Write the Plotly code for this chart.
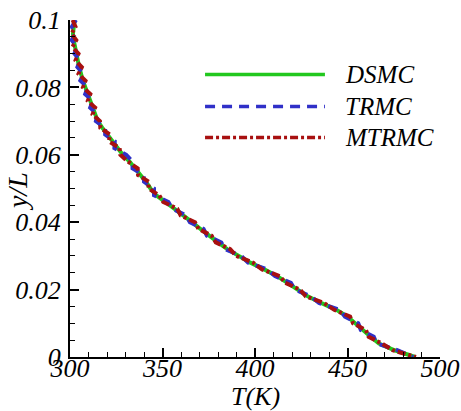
import plotly.graph_objects as go

# y/L positions (shared by all three series)
y_over_L = [0.100, 0.098, 0.096, 0.094, 0.092, 0.090, 0.088, 0.086, 0.084, 0.082,
            0.080, 0.078, 0.076, 0.074, 0.072, 0.070, 0.068, 0.066, 0.064, 0.062,
            0.060, 0.058, 0.056, 0.054, 0.052, 0.050, 0.048, 0.046, 0.044, 0.042,
            0.040, 0.038, 0.036, 0.034, 0.032, 0.030, 0.028, 0.026, 0.024, 0.022,
            0.020, 0.018, 0.016, 0.014, 0.012, 0.010, 0.008, 0.006, 0.004, 0.002,
            0.000]

T_dsmc = [302.5, 302.0, 301.6, 302.0, 302.6, 303.4, 304.2, 305.0, 305.9, 307.0,
          308.3, 309.6, 310.9, 312.2, 313.4, 315.0, 317.5, 320.2, 322.5, 325.2,
          328.5, 332.2, 335.3, 338.0, 341.0, 343.5, 346.5, 351.5, 356.5, 361.0,
          366.0, 370.5, 375.0, 380.0, 385.0, 391.0, 397.5, 405.0, 412.0, 417.5,
          423.0, 428.5, 436.0, 444.0, 450.0, 454.0, 458.5, 462.5, 467.0, 475.5,
          486.5]

T_trmc = [303.2, 301.0, 302.8, 300.9, 303.8, 302.4, 305.6, 304.0, 307.4, 305.6,
          309.6, 308.2, 312.4, 310.9, 314.8, 314.0, 319.0, 319.0, 324.2, 324.0,
          330.4, 333.8, 333.8, 339.8, 340.0, 345.4, 345.4, 353.2, 355.2, 362.8,
          364.8, 372.2, 374.0, 381.8, 383.6, 392.6, 396.2, 406.6, 410.8, 419.4,
          421.6, 430.2, 434.6, 445.8, 448.6, 455.8, 457.2, 464.2, 465.8, 477.2,
          485.5]

T_mtrmc = [301.4, 303.0, 300.8, 303.4, 301.3, 304.6, 303.0, 306.4, 304.6, 308.4,
           307.0, 311.0, 309.6, 313.6, 312.2, 316.2, 316.4, 321.6, 321.0, 326.8,
           327.2, 331.2, 336.6, 336.8, 342.6, 342.4, 348.2, 350.4, 358.0, 359.8,
           367.6, 369.4, 376.6, 378.8, 386.6, 389.8, 399.0, 403.8, 413.4, 416.4,
           424.4, 427.4, 437.4, 442.8, 451.4, 453.0, 460.0, 461.4, 468.6, 474.4,
           487.0]

x_ticks = [300, 350, 400, 450, 500]
x_tick_labels = ["300", "350", "400", "450", "500"]
y_ticks = [0, 0.02, 0.04, 0.06, 0.08, 0.1]
y_tick_labels = ["0", "0.02", "0.04", "0.06", "0.08", "0.1"]

series_names = ["DSMC", "TRMC", "MTRMC"]
colors = ["#22c81e", "#3030c8", "#a81010"]
dashes = ["solid", "10px,7px", "8px,3px,3px,3px"]

FONT = "Liberation Serif"

fig = go.Figure()
for name, T, c, d in zip(series_names, [T_dsmc, T_trmc, T_mtrmc], colors, dashes):
    fig.add_trace(go.Scatter(x=T, y=y_over_L, mode="lines", name=name,
                             line=dict(color=c, width=4, dash=d),
                             showlegend=False))

# manual legend (long line samples as in the original)
leg_y = [0.838, 0.743, 0.651]
for name, c, d, yy in zip(series_names, colors, dashes, leg_y):
    fig.add_shape(type="line", xref="paper", yref="paper",
                  x0=0.365, x1=0.689, y0=yy, y1=yy,
                  line=dict(color=c, width=3.5, dash=d))
    fig.add_annotation(xref="paper", yref="paper", x=0.738, y=yy,
                       text=name, showarrow=False, xanchor="left", yanchor="middle",
                       font=dict(family=FONT, size=25, color="black", style="italic"))

# axis titles placed as in the original
fig.add_annotation(xref="paper", yref="paper", x=0.5, y=-0.117, text="T(K)",
                   showarrow=False, xanchor="center", yanchor="middle",
                   font=dict(family=FONT, size=26, color="black", style="italic"))
fig.add_annotation(xref="paper", yref="paper", x=-0.14, y=0.49, text="y/L",
                   showarrow=False, xanchor="center", yanchor="middle", textangle=-90,
                   font=dict(family=FONT, size=28, color="black", style="italic"))

axis_common = dict(showline=True, linecolor="black", linewidth=2, mirror=False,
                   ticks="inside", ticklen=9, tickwidth=2, tickcolor="black",
                   showgrid=False, zeroline=False, automargin=False,
                   tickfont=dict(family=FONT, size=26, color="black", style="italic"))

fig.update_xaxes(range=[300, 500], tickvals=x_ticks, ticktext=x_tick_labels,
                 minor=dict(dtick=10, ticks="inside", ticklen=5, tickwidth=1, tickcolor="black", showgrid=False),
                 ticklabelstandoff=-13,
                 **axis_common)
fig.update_yaxes(range=[0, 0.1], tickvals=y_ticks, ticktext=y_tick_labels,
                 minor=dict(dtick=0.005, ticks="inside", ticklen=5, tickwidth=1, tickcolor="black", showgrid=False),
                 ticklabelstandoff=2,
                 **axis_common)

fig.update_layout(width=461, height=411,
                  margin=dict(l=70, r=21, t=20, b=54),
                  paper_bgcolor="white", plot_bgcolor="white",
                  showlegend=False)

fig.write_html("out.html")
